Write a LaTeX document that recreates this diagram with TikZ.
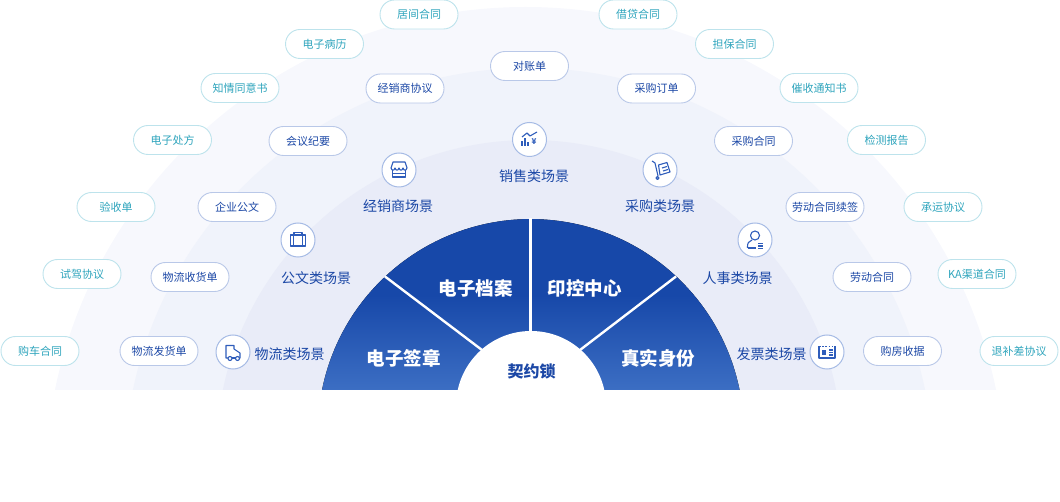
\documentclass[tikz,border=0pt]{standalone}
\usepackage{fontspec}
\setmainfont{Noto Sans CJK SC}
\usepackage{tikz}
\definecolor{outerbg}{HTML}{F7F8FD}
\definecolor{middlebg}{HTML}{F0F3FB}
\definecolor{innerbg}{HTML}{E9ECF8}
\definecolor{sectordark}{HTML}{1748A9}
\definecolor{sectorlight}{HTML}{3C6EC3}
\definecolor{bluetext}{HTML}{1C48A6}
\definecolor{blueline}{HTML}{B9C8E8}
\definecolor{ringline}{HTML}{A6BBE5}
\definecolor{iconline}{HTML}{2F5DBB}
\definecolor{tealtext}{HTML}{2FA5BD}
\definecolor{tealline}{HTML}{BDE3EC}
\tikzset{
  docblue/.style={draw=blueline,fill=white,rounded corners=14.5pt,line width=0.9pt,minimum width=78pt,minimum height=29pt,inner sep=0pt,text=bluetext,font=\fontsize{11}{12}\selectfont},
  docteal/.style={docblue,draw=tealline,text=tealtext},
  scene/.style={text=bluetext,inner sep=0pt,font=\fontsize{14}{15}\selectfont},
  iconring/.style={circle,draw=ringline,fill=white,line width=1pt,minimum size=34pt,inner sep=0pt},
  icon/.style={draw=iconline,line width=1.1pt,fill=none,line join=round},
  product/.style={text=white,inner sep=0pt,font=\fontsize{18.5}{20}\selectfont\bfseries}
}
\begin{document}
\begin{tikzpicture}[x=1pt,y=-1pt]
\useasboundingbox (0,0) rectangle (1060,502);

\begin{scope}
\clip (0,0) rectangle (1060,390);
\fill[outerbg] (525.5,487.5) circle (480.5pt);
\fill[middlebg] (529,472.5) circle (404.5pt);
\fill[innerbg] (529.5,453) circle (313pt);
\end{scope}
\fill[top color=sectordark,bottom color=sectorlight,middle color=sectordark]
  (322,390) arc[start angle=168.6,end angle=11.4,radius=213pt] -- cycle;

\coordinate (sepl0) at (482,350);
\coordinate (sepl1) at (385,276.5);
\coordinate (sepm0) at (530.5,340);
\coordinate (sepm1) at (530.5,218);
\coordinate (sepr0) at (580,350);
\coordinate (sepr1) at (676,276.5);
\draw[white,line width=2.4pt] (sepl0) -- (sepl1);
\draw[white,line width=2.4pt] (sepm0) -- (sepm1);
\draw[white,line width=2.4pt] (sepr0) -- (sepr1);

\begin{scope}
\clip (0,0) rectangle (1060,390);
\fill[white] (531,406) circle (75pt);
\end{scope}

\node[product] (p1) at (403.5,358.5) {电子签章};
\node[product] (p2) at (475.5,288.5) {电子档案};
\node[product] (p3) at (584.5,288.5) {印控中心};
\node[product] (p4) at (658,358.5) {真实身份};
\node[text=bluetext,inner sep=0pt,font=\fontsize{16}{18}\selectfont\bfseries] (hub) at (531.5,371) {契约锁};

\node[docteal] (t1) at (419,14.5) {居间合同};
\node[docteal] (t2) at (638,14.5) {借贷合同};
\node[docteal] (t3) at (324.5,44) {电子病历};
\node[docteal] (t4) at (734.5,44) {担保合同};
\node[docteal] (t5) at (240,88) {知情同意书};
\node[docteal] (t6) at (819,88) {催收通知书};
\node[docteal] (t7) at (172.5,140) {电子处方};
\node[docteal] (t8) at (886.5,140) {检测报告};
\node[docteal] (t9) at (116,207) {验收单};
\node[docteal] (t10) at (943,207) {承运协议};
\node[docteal] (t11) at (82,274) {试驾协议};
\node[docteal] (t12) at (977,274) {KA渠道合同};
\node[docteal] (t13) at (40,351) {购车合同};
\node[docteal] (t14) at (1019,351) {退补差协议};

\node[docblue] (b1) at (529.5,66) {对账单};
\node[docblue] (b2) at (405,88.5) {经销商协议};
\node[docblue] (b3) at (656.5,88.5) {采购订单};
\node[docblue] (b4) at (308,141) {会议纪要};
\node[docblue] (b5) at (753.5,141) {采购合同};
\node[docblue] (b6) at (237,207) {企业公文};
\node[docblue] (b7) at (825,207) {劳动合同续签};
\node[docblue] (b8) at (190,277) {物流收货单};
\node[docblue] (b9) at (872,277) {劳动合同};
\node[docblue] (b10) at (159,351) {物流发货单};
\node[docblue] (b11) at (902.5,351) {购房收据};

\node[scene] (s1) at (534,176) {销售类场景};
\node[scene] (s2) at (398,206) {经销商场景};
\node[scene] (s3) at (316,278) {公文类场景};
\node[scene] (s4) at (289.5,354) {物流类场景};
\node[scene] (s5) at (660,206) {采购类场景};
\node[scene] (s6) at (737.5,278) {人事类场景};
\node[scene] (s7) at (771.5,354) {发票类场景};

\node[iconring] (r1) at (529.5,139.5) {};
\node[iconring] (r2) at (399,170) {};
\node[iconring] (r3) at (298,240) {};
\node[iconring] (r4) at (233,352) {};
\node[iconring] (r5) at (660,170) {};
\node[iconring] (r6) at (755,240) {};
\node[iconring] (r7) at (827,352) {};

\draw[icon] (522,146) -- (522,141) (525,146) -- (525,138) (528,146) -- (528,142);
\draw[icon] (522,137) -- (527,133) -- (530,136) -- (537,132);
\node[text=iconline,inner sep=0pt,font=\fontsize{8}{8}\selectfont\bfseries] (yen) at (534,142) {¥};

\draw[icon] (393,162) -- (405,162) -- (407,168) .. controls (406,171) and (404,171) .. (403,168) .. controls (402,171) and (400,171) .. (399,168) .. controls (398,171) and (396,171) .. (395,168) .. controls (394,171) and (392,171) .. (391,168) -- cycle;
\draw[icon] (392.5,170) -- (392.5,177) -- (405.5,177) -- (405.5,170);
\draw[icon] (392.5,173.5) -- (405.5,173.5);

\draw[icon] (290.5,235) rectangle (305.5,246);
\draw[icon] (294,235) -- (294,232.5) -- (302,232.5) -- (302,235);
\draw[icon] (293.5,235) -- (293.5,246) (302.5,235) -- (302.5,246);

\draw[icon] (228,358) -- (226,358) -- (226,345.5) -- (234,345.5) -- (234,349) -- (240,353) -- (240,358) -- (239.5,358);
\draw[icon] (232,358) -- (235.5,358);
\draw[icon] (230,358.5) circle (2pt);
\draw[icon] (237.5,358.5) circle (2pt);

\draw[icon] (652,161) -- (655,163) -- (658,176);
\draw[icon] (658.5,165) -- (667,162.5) -- (670,172) -- (660,175) -- cycle;
\draw[icon] (662,168) -- (667,166.5) (663,171) -- (668,169.5);
\draw[icon] (657.5,178) circle (1.5pt);

\draw[icon] (755,235.5) circle (4.5pt);
\draw[icon] (747.5,248) .. controls (747,243) and (749,241) .. (752,240);
\draw[icon] (747.5,248) -- (756,248);
\draw[icon] (758,243.5) -- (763,243.5) (758,246) -- (763,246) (758,248.5) -- (763,248.5);

\draw[icon] (819,346.5) -- (819,358) -- (835,358) -- (835,346.5);
\draw[icon,dash pattern=on 1.6pt off 1.6pt] (819,346.5) -- (835,346.5);
\fill[iconline] (822,350.5) rectangle (826,355);
\draw[icon] (829,350) -- (833,350) (829,352.5) -- (833,352.5) (829,355) -- (833,355);

\end{tikzpicture}
\end{document}
